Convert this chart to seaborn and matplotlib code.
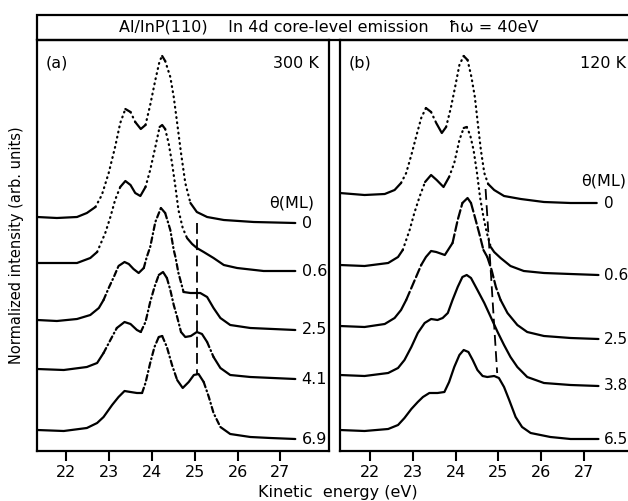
import numpy as np
import pandas as pd
import matplotlib
matplotlib.use("Agg")
import matplotlib.pyplot as plt
from matplotlib.patches import Rectangle
import seaborn as sns

# ---------------- data ----------------
# Panel (a): 300 K, coverages theta (ML)
a_labels = ["0", "0.6", "2.5", "4.1", "6.9"]
a_E_0 = [21.32, 21.78, 22.25, 22.48, 22.68, 22.83, 22.99, 23.14, 23.26, 23.38, 23.50, 23.61, 23.74, 23.85,
         23.96, 24.08, 24.18, 24.24, 24.31, 24.43, 24.51, 24.59, 24.68, 24.78, 24.90, 25.05, 25.29, 25.68,
         26.38, 27.35]
a_I_0 = [234, 233, 234, 238, 244, 256, 278, 304, 328, 342, 339, 329, 322, 326,
         346, 371, 390, 395, 390, 374, 354, 328, 298, 268, 248, 239, 234, 231,
         229, 228]
a_E_06 = [21.32, 21.78, 22.25, 22.56, 22.72, 22.79, 22.91, 23.03, 23.14, 23.26, 23.38, 23.50, 23.61, 23.73,
          23.85, 23.96, 24.08, 24.18, 24.24, 24.31, 24.39, 24.47, 24.55, 24.62, 24.72, 24.82, 24.94, 25.05,
          25.21, 25.44, 25.68, 25.99, 26.61, 27.35]
a_I_06 = [188, 188, 188, 193, 199, 206, 218, 234, 251, 264, 270, 266, 258, 255,
          264, 281, 304, 324, 326, 322, 308, 288, 264, 241, 223, 213, 207, 203,
          199, 193, 186, 183, 180, 180]
a_E_25 = [21.32, 21.78, 22.25, 22.56, 22.76, 22.87, 22.99, 23.11, 23.22, 23.36, 23.46, 23.57, 23.69, 23.81,
          23.88, 23.96, 24.08, 24.21, 24.31, 24.43, 24.51, 24.55, 24.62, 24.74, 24.90, 25.13, 25.29, 25.44,
          25.60, 25.83, 26.30, 27.35]
a_I_25 = [131, 130, 132, 136, 143, 151, 163, 174, 185, 189, 187, 182, 178, 183,
          194, 204, 229, 243, 238, 221, 201, 194, 178, 159, 158, 158, 154, 143,
          133, 126, 123, 121]
a_E_41 = [21.32, 21.94, 22.48, 22.72, 22.87, 23.03, 23.18, 23.36, 23.50, 23.65, 23.74, 23.85, 23.96, 24.06,
          24.16, 24.26, 24.35, 24.43, 24.51, 24.59, 24.68, 24.78, 24.91, 25.05, 25.17, 25.29, 25.44, 25.60,
          25.83, 26.30, 27.35]
a_I_41 = [82, 81, 84, 88, 98, 111, 123, 129, 127, 121, 119, 129, 149, 164,
          176, 179, 173, 161, 146, 134, 119, 114, 115, 119, 117, 109, 94, 83,
          76, 74, 72]
a_E_69 = [21.32, 21.94, 22.48, 22.72, 22.87, 23.07, 23.22, 23.36, 23.50, 23.65, 23.77, 23.85, 23.96, 24.06,
          24.16, 24.24, 24.35, 24.47, 24.59, 24.72, 24.86, 24.98, 25.09, 25.21, 25.33, 25.44, 25.60, 25.83,
          26.30, 26.77, 27.35]
a_I_69 = [21, 20, 23, 28, 34, 46, 54, 60, 59, 58, 58, 68, 88, 104,
          114, 115, 104, 86, 71, 63, 69, 76, 77, 69, 54, 38, 24, 17,
          14, 13, 12]

# Panel (b): 120 K
b_labels = ["0", "0.6", "2.5", "3.8", "6.5"]
b_E_0 = [21.30, 21.88, 22.35, 22.58, 22.73, 22.85, 22.97, 23.08, 23.20, 23.31, 23.43, 23.55, 23.68, 23.78,
         23.89, 23.99, 24.09, 24.19, 24.28, 24.37, 24.45, 24.51, 24.59, 24.67, 24.76, 24.90, 25.13, 25.52,
         26.06, 26.68, 27.29]
b_I_0 = [258, 256, 257, 261, 268, 278, 296, 314, 333, 343, 339, 328, 318, 324,
         343, 364, 386, 395, 391, 374, 354, 331, 301, 278, 267, 261, 255, 252,
         249, 248, 248]
b_E_06 = [21.30, 21.88, 22.43, 22.66, 22.77, 22.81, 22.93, 23.04, 23.16, 23.29, 23.43, 23.56, 23.72, 23.85,
          23.97, 24.09, 24.19, 24.26, 24.34, 24.42, 24.50, 24.57, 24.65, 24.73, 24.82, 24.90, 25.05, 25.28,
          25.59, 26.06, 26.68, 27.33]
b_I_06 = [186, 185, 188, 194, 201, 206, 221, 238, 254, 269, 276, 271, 264, 274,
          288, 311, 323, 324, 316, 301, 278, 254, 234, 218, 204, 199, 193, 185,
          180, 178, 177, 176]
b_E_25 = [21.30, 21.88, 22.35, 22.58, 22.73, 22.85, 22.97, 23.08, 23.20, 23.31, 23.43, 23.55, 23.75, 23.93,
          24.05, 24.16, 24.28, 24.36, 24.45, 24.55, 24.65, 24.74, 24.84, 24.94, 25.05, 25.21, 25.44, 25.67,
          26.06, 26.68, 27.33]
b_I_25 = [125, 124, 127, 133, 141, 151, 163, 174, 186, 194, 200, 199, 196, 208,
          231, 248, 253, 248, 234, 218, 201, 194, 181, 164, 151, 138, 126, 119,
          115, 113, 112]
b_E_38 = [21.30, 21.88, 22.43, 22.66, 22.81, 22.97, 23.12, 23.28, 23.43, 23.58, 23.70, 23.82, 23.93, 24.05,
          24.16, 24.26, 24.36, 24.51, 24.67, 24.82, 24.98, 25.13, 25.28, 25.44, 25.67, 26.06, 26.68, 27.33]
b_I_38 = [76, 75, 78, 83, 91, 104, 118, 128, 132, 131, 133, 138, 151, 164,
          174, 176, 173, 161, 148, 134, 119, 106, 94, 84, 74, 68, 66, 65]
b_E_65 = [21.30, 21.88, 22.43, 22.66, 22.81, 22.97, 23.12, 23.24, 23.39, 23.58, 23.74, 23.85, 23.97, 24.09,
          24.19, 24.30, 24.40, 24.51, 24.63, 24.74, 24.90, 25.01, 25.13, 25.25, 25.40, 25.55, 25.75, 26.21,
          26.68, 27.33]
b_I_65 = [21, 20, 22, 26, 33, 42, 49, 54, 58, 58, 59, 69, 84, 96,
          101, 99, 91, 81, 75, 74, 75, 73, 64, 51, 34, 24, 18, 14,
          12, 12]

# dashed guide lines (energy, intensity) end points
a_guide_E = [25.05, 25.05]
a_guide_I = [228, 76]
b_guide_E = [24.70, 24.97]
b_guide_I = [262, 78]

xticks = [22, 23, 24, 25, 26, 27]

# ---------------- style ----------------
sns.set_theme(style="ticks")
plt.rcParams["font.family"] = ["DejaVu Sans"]
plt.rcParams["text.color"] = "black"
plt.rcParams["lines.scale_dashes"] = True

W, H = 628, 501
fig = plt.figure(figsize=(W / 100, H / 100), dpi=100)


def fx(px):
    return px / W


def fy(py):
    return 1 - py / H


ax_a = fig.add_axes([fx(37), fy(451), fx(329) - fx(37), fy(40) - fy(451)])
ax_b = fig.add_axes([fx(339.5), fy(451), fx(292), fy(40) - fy(451)])

DASHES = {"solid": "", "dot": (0.35, 2.0), "dashdot": (2.5, 1.5, 0.4, 1.5), "dash": (4.0, 1.6)}


def build_frame(E, I, thr, steep_kind, px_per_ev=42.8):
    E = np.asarray(E, float)
    I = np.asarray(I, float)
    slope = np.abs(np.diff(I) / np.diff(E)) / px_per_ev
    kinds = [steep_kind if s > thr else "solid" for s in slope]
    rows = []
    unit = 0
    start = 0
    for k in range(1, len(kinds) + 1):
        if k == len(kinds) or kinds[k] != kinds[start]:
            for i in range(start, k + 1):
                rows.append((E[i], I[i], unit, kinds[start]))
            unit += 1
            start = k
    return pd.DataFrame(rows, columns=["E", "I", "seg", "kind"])


def draw_curve(ax, E, I, thr, steep_kind):
    df = build_frame(E, I, thr, steep_kind)
    levels = list(dict.fromkeys(df["kind"]))
    sns.lineplot(data=df, x="E", y="I", units="seg", estimator=None, style="kind",
                 style_order=levels, dashes={k: DASHES[k] for k in levels},
                 color="black", lw=1.6, sort=False, legend=False, ax=ax,
                 dash_capstyle="round", solid_capstyle="round")


panel_a = [(a_E_0, a_I_0, 1.8, "dot"), (a_E_06, a_I_06, 1.8, "dot"),
           (a_E_25, a_I_25, 1.8, "dashdot"), (a_E_41, a_I_41, 1.8, "dashdot"),
           (a_E_69, a_I_69, 1.8, "dashdot")]
panel_b = [(b_E_0, b_I_0, 1.8, "dot"), (b_E_06, b_I_06, 1.8, "dot"),
           (b_E_25, b_I_25, 2.2, "dash"), (b_E_38, b_I_38, 99, "solid"),
           (b_E_65, b_I_65, 99, "solid")]

FS = 11.5
for ax, curves, labels, xlim, guide, lab_x, lab_fs, theta_pos, temp, temp_x, tag in [
        (ax_a, panel_a, a_labels, (21.315, 28.138), (a_guide_E, a_guide_I), 27.50, FS,
         (26.74, 248), "300 K", 27.90, "(a)"),
        (ax_b, panel_b, b_labels, (21.296, 28.10), (b_guide_E, b_guide_I), 27.45, 11,
         (26.93, 270), "120 K", 27.97, "(b)")]:
    for (E, I, thr, kind), lab in zip(curves, labels):
        draw_curve(ax, E, I, thr, kind)
        ax.text(lab_x, I[-1], lab, ha="left", va="center", fontsize=lab_fs, color="black")
    gdf = pd.DataFrame({"E": guide[0], "I": guide[1], "u": [0, 0]})
    sns.lineplot(data=gdf, x="E", y="I", units="u", estimator=None, color="black", lw=1.3,
                 sort=False, ax=ax, legend=False, dashes=False, linestyle=(0, (6, 3)))
    ax.text(theta_pos[0], theta_pos[1], "θ(ML)", ha="left", va="center", fontsize=FS)
    ax.text(0.03, 0.944, tag, transform=ax.transAxes, ha="left", va="center", fontsize=FS)
    ax.text(temp_x, 388, temp, ha="right", va="center", fontsize=FS)
    ax.set_xlim(*xlim)
    ax.set_ylim(0, 411)
    ax.set_xticks(xticks)
    ax.set_xticklabels([str(t) for t in xticks], fontsize=FS)
    ax.set_yticks([])
    ax.set_xlabel("")
    ax.set_ylabel("")
    ax.tick_params(axis="x", direction="out", length=7, width=1.5, pad=3, colors="black")
    for sp in ax.spines.values():
        sp.set_visible(True)
        sp.set_linewidth(1.6)
        sp.set_color("black")

# title box
fig.add_artist(Rectangle((fx(37), fy(40)), 1.2, fy(15) - fy(40), transform=fig.transFigure,
                         fill=False, lw=1.6, ec="black", clip_on=False))
fig.text(fx(329), fy(27.5), "Al/InP(110)    In 4d core-level emission    ħω = 40eV",
         ha="center", va="center", fontsize=FS, color="black")

fig.text(fx(338), fy(492), "Kinetic  energy (eV)", ha="center", va="center", fontsize=FS, color="black")
fig.text(fx(17), fy(245), "Normalized intensity (arb. units)", ha="center", va="center",
         rotation=90, fontsize=10.5, color="black")

fig.savefig("out.png", dpi=100, facecolor="white")
